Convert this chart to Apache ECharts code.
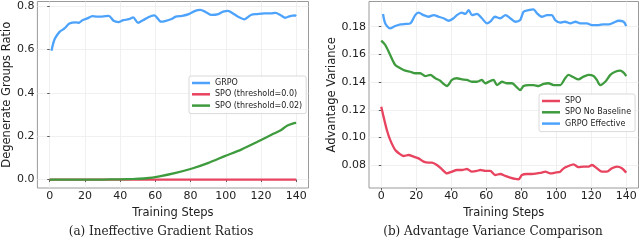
<!DOCTYPE html>
<html><head><meta charset="utf-8">
<script src="https://cdn.jsdelivr.net/npm/echarts@6/dist/echarts.min.js"></script>
<style>html,body{margin:0;padding:0;background:#fff}#c{width:640px;height:241px}</style>
</head><body><div id="c"></div>
<script>
// ---------- data: (a) Ineffective Gradient Ratios ----------
const xTicks = [0, 20, 40, 60, 80, 100, 120, 140];
const yTicksA = [0.0, 0.2, 0.4, 0.6, 0.8];
const yTicksB = [0.08, 0.10, 0.12, 0.14, 0.16, 0.18];

const grpoSteps = [1,2,3,5.6,8.4,11.2,14.9,16.7,18.6,21.4,24.2,26.9,29.7,33.5,36.3,39,41.8,45.6,47.4,50.2,53,57.6,59.5,63.2,66,68.8,71.6,75.3,79,82.7,85.5,88.3,92,95.8,98.5,101.3,104.1,107,110.6,114.3,118,121.8,125.5,128.3,131,133.8,136.6,139.4,140];
const grpoVals  = [0.594,0.628,0.651,0.681,0.697,0.720,0.725,0.723,0.735,0.743,0.754,0.751,0.751,0.755,0.732,0.726,0.735,0.741,0.748,0.723,0.735,0.754,0.757,0.728,0.732,0.739,0.751,0.755,0.763,0.778,0.782,0.774,0.759,0.763,0.774,0.778,0.766,0.751,0.739,0.759,0.763,0.766,0.766,0.769,0.759,0.746,0.754,0.757,0.754];

const spo0Steps = [0, 140];
const spo0Vals  = [0, 0];

const spo02Steps = [0,10,20,30,40,48,54.8,62.3,71.6,80.9,90.2,99.4,108.8,118,127.3,131,134.8,138,140];
const spo02Vals  = [0,0,0,0,0.001,0.003,0.006,0.015,0.031,0.051,0.077,0.108,0.138,0.174,0.212,0.226,0.248,0.258,0.261];

// ---------- data: (b) Advantage Variance Comparison ----------
const spoSteps = [0,1.3,3.2,5.1,8,10.9,12.8,15.6,18.5,21.3,24.2,27,29,31.8,34.7,37.5,40.4,43.2,46.1,49,51.8,54.7,56.6,59.4,62.3,65.1,68,70.9,73.7,76.6,78.5,80.4,83.2,86.1,89,91.8,93.7,96.6,99.4,102.3,104.2,107,109.9,112.7,115.6,118.5,120.4,123.2,126.1,129,131.8,134.7,137.5,140];
const spoVals  = [0.1223,0.1151,0.1055,0.0983,0.0910,0.0879,0.0867,0.0874,0.0862,0.0850,0.0826,0.0819,0.0819,0.0802,0.0771,0.0742,0.0754,0.0766,0.0766,0.0773,0.0754,0.0759,0.0766,0.0759,0.0759,0.0730,0.0737,0.0723,0.0711,0.0701,0.0699,0.0730,0.0737,0.0737,0.0742,0.0747,0.0754,0.0742,0.0747,0.0754,0.0778,0.0795,0.0807,0.0786,0.0790,0.0790,0.0802,0.0778,0.0754,0.0754,0.0778,0.0790,0.0778,0.0747];

const noBaseSteps = [0,2.3,5.1,8,10.9,13.7,16.6,19.4,22.3,25.1,28,30.9,33.7,35.6,37.5,40.4,43.2,46.1,49,51.8,54.7,57.5,59.4,62.3,64.2,66.1,69,71.8,74.7,77.5,79.4,81.3,84.2,87,89.9,92.8,95.6,98.5,102.3,105.1,107,109.9,112.7,115.6,118.5,121.3,123.2,125.1,128,130.9,133.7,136.6,138.5,140];
const noBaseVals  = [0.1699,0.1668,0.1596,0.1524,0.1500,0.1483,0.1475,0.1464,0.1464,0.1444,0.1452,0.1428,0.1410,0.1387,0.1372,0.1416,0.1428,0.1420,0.1416,0.1403,0.1403,0.1416,0.1392,0.1408,0.1416,0.1379,0.1403,0.1392,0.1392,0.1363,0.1343,0.1372,0.1379,0.1379,0.1372,0.1387,0.1392,0.1379,0.1379,0.1428,0.1452,0.1435,0.1420,0.1440,0.1452,0.1444,0.1416,0.1379,0.1403,0.1452,0.1475,0.1483,0.1468,0.1444];

const grpoEffSteps = [1,2.3,5,8,11,14,16.6,19.4,21.3,24.2,27,30,32.8,35.6,38.5,41.3,43.2,46,48,50,51.8,54.7,57.5,60.4,62.3,65,68,71,73.7,76.6,79.4,81.3,84.2,87,89,91.8,94.7,97.5,99.4,102.3,105,108,111,113.7,117.5,120.4,124.2,127,130,132.7,135.6,138.5,140];
const grpoEffVals  = [0.1892,0.1824,0.1788,0.1805,0.1817,0.1820,0.1824,0.1884,0.1901,0.1884,0.1872,0.1884,0.1872,0.1861,0.1843,0.1861,0.1884,0.1901,0.1892,0.1920,0.1884,0.1892,0.1861,0.1824,0.1836,0.1872,0.1861,0.1884,0.1861,0.1836,0.1848,0.1908,0.1920,0.1925,0.1897,0.1872,0.1884,0.1884,0.1848,0.1829,0.1836,0.1824,0.1836,0.1824,0.1824,0.1812,0.1812,0.1817,0.1817,0.1829,0.1843,0.1836,0.1805];

const captionA = '(a) Ineffective Gradient Ratios';
const captionB = '(b) Advantage Variance Comparison';

// ---------- styling ----------
const BLUE = '#4da3fb', RED = '#e8435f', GREEN = '#3e9b3e';
const txt = '#222';
const sans = 'DejaVu Sans';

function pairs(xs, ys) {
  const n = Math.min(xs.length, ys.length);
  const out = [];
  for (let i = 0; i < n; i++) out.push([xs[i], ys[i]]);
  return out;
}

function xAxisDef(gi) {
  return {
    type: 'value', gridIndex: gi, min: -7, max: 147,
    name: 'Training Steps', nameLocation: 'middle', nameGap: 9,
    nameTextStyle: {fontFamily: sans, fontSize: 11.5, color: txt},
    axisLine: {show: false},
    axisTick: {show: true, length: 2.5, customValues: xTicks, lineStyle: {color: '#333', width: 0.8}},
    axisLabel: {customValues: xTicks, margin: 3, fontFamily: sans, fontSize: 11, color: txt},
    splitLine: {show: true, lineStyle: {color: '#ececec', width: 0.8}}
  };
}
function yAxisDef(gi, ticks, min, max, name, dec, gap) {
  return {
    type: 'value', gridIndex: gi, min: min, max: max,
    name: name, nameLocation: 'middle', nameGap: gap,
    nameTextStyle: {fontFamily: sans, fontSize: 11.5, color: txt},
    axisLine: {show: false},
    axisTick: {show: true, length: 2.5, customValues: ticks, lineStyle: {color: '#333', width: 0.8}},
    axisLabel: {customValues: ticks, margin: 3, fontFamily: sans, fontSize: 11, color: txt,
                formatter: v => Number(v).toFixed(dec)},
    splitLine: {show: true, lineStyle: {color: '#ececec', width: 0.8}}
  };
}
function line(name, xs, ys, color, xi, yi) {
  return {
    type: 'line', name: name, xAxisIndex: xi, yAxisIndex: yi,
    data: pairs(xs, ys), showSymbol: false, symbol: 'none', smooth: 0.25,
    lineStyle: {color: color, width: 2.3}, itemStyle: {color: color},
    animation: false
  };
}
const legendBase = {
  orient: 'vertical', icon: 'rect', itemWidth: 18, itemHeight: 2.5, itemGap: 2.3,
  backgroundColor: 'rgba(255,255,255,0.85)', borderColor: '#cfcfcf', borderWidth: 0.8, borderRadius: 2,
  textStyle: {fontFamily: sans, fontSize: 8, color: txt, lineHeight: 9},
  selectedMode: false
};

const chart = echarts.init(document.getElementById('c'), null, {renderer: 'canvas'});
chart.setOption({
  animation: false,
  backgroundColor: '#fff',
  title: [
    {text: captionA, left: 161, top: 226, textAlign: 'center', padding: 0,
     textStyle: {fontFamily: 'DejaVu Serif', fontWeight: 'normal', fontSize: 12, color: txt}},
    {text: captionB, left: 493, top: 226, textAlign: 'center', padding: 0,
     textStyle: {fontFamily: 'DejaVu Serif', fontWeight: 'normal', fontSize: 12, color: txt}}
  ],
  grid: [
    {left: 32.5, top: 1.5, width: 276, height: 186.5, show: true, borderColor: '#9a9a9a', borderWidth: 1, backgroundColor: 'transparent'},
    {left: 369, top: 1.5, width: 269.5, height: 186.5, show: true, borderColor: '#9a9a9a', borderWidth: 1, backgroundColor: 'transparent'}
  ],
  xAxis: [xAxisDef(0), xAxisDef(1)],
  yAxis: [
    yAxisDef(0, yTicksA, -0.039, 0.821, 'Degenerate Groups Ratio', 1, 20),
    yAxisDef(1, yTicksB, 0.0636, 0.1982, 'Advantage Variance', 2, 27)
  ],
  legend: [
    Object.assign({}, legendBase, {left: 189, top: 76, padding: [2.5, 4, 3.5, 3],
      data: ['GRPO', 'SPO (threshold=0.0)', 'SPO (threshold=0.02)']}),
    Object.assign({}, legendBase, {left: 539, top: 94, padding: [2.5, 4, 3.5, 3],
      data: ['SPO', 'SPO No Baseline', 'GRPO Effective']})
  ],
  series: [
    line('GRPO', grpoSteps, grpoVals, BLUE, 0, 0),
    line('SPO (threshold=0.0)', spo0Steps, spo0Vals, RED, 0, 0),
    line('SPO (threshold=0.02)', spo02Steps, spo02Vals, GREEN, 0, 0),
    line('SPO', spoSteps, spoVals, RED, 1, 1),
    line('SPO No Baseline', noBaseSteps, noBaseVals, GREEN, 1, 1),
    line('GRPO Effective', grpoEffSteps, grpoEffVals, BLUE, 1, 1)
  ]
});
</script>
</body></html>
